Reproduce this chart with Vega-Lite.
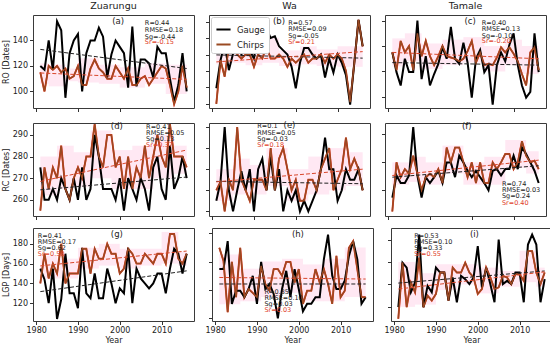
{
"$schema":"https://vega.github.io/schema/vega-lite/v6.json",
"padding":{"left":1,"top":0,"right":2,"bottom":0},
"config":{"font":"DejaVu Sans","view":{"stroke":"#3a3a3a","strokeWidth":1},
"axis":{"domain":false,"grid":false,"ticks":true,"tickSize":3.5,"tickColor":"#333","labelFontSize":8,"labelColor":"#222","titleFontSize":8,"titleFontWeight":"normal","titleColor":"#222","labelPadding":2,"titlePadding":2}},
"datasets":{
"ts":[
{"p":"a","year":1981,"Gauge":120,"Chirps":115},{"p":"a","year":1982,"Gauge":117,"Chirps":100},{"p":"a","year":1983,"Gauge":140,"Chirps":120},{"p":"a","year":1984,"Gauge":117,"Chirps":117},{"p":"a","year":1985,"Gauge":155,"Chirps":120},{"p":"a","year":1986,"Gauge":148,"Chirps":115},{"p":"a","year":1987,"Gauge":95,"Chirps":118},{"p":"a","year":1988,"Gauge":130,"Chirps":110},{"p":"a","year":1989,"Gauge":140,"Chirps":112},{"p":"a","year":1990,"Gauge":145,"Chirps":120},{"p":"a","year":1991,"Gauge":100,"Chirps":105},{"p":"a","year":1992,"Gauge":130,"Chirps":105},{"p":"a","year":1993,"Gauge":140,"Chirps":118},{"p":"a","year":1994,"Gauge":140,"Chirps":125},{"p":"a","year":1995,"Gauge":150,"Chirps":118},{"p":"a","year":1996,"Gauge":143,"Chirps":115},{"p":"a","year":1997,"Gauge":111,"Chirps":110},{"p":"a","year":1998,"Gauge":129,"Chirps":110},{"p":"a","year":1999,"Gauge":140,"Chirps":120},{"p":"a","year":2000,"Gauge":135,"Chirps":115},{"p":"a","year":2001,"Gauge":130,"Chirps":110},{"p":"a","year":2002,"Gauge":103,"Chirps":118},{"p":"a","year":2003,"Gauge":151,"Chirps":105},{"p":"a","year":2004,"Gauge":104,"Chirps":105},{"p":"a","year":2005,"Gauge":125,"Chirps":110},{"p":"a","year":2006,"Gauge":125,"Chirps":112},{"p":"a","year":2007,"Gauge":122,"Chirps":105},{"p":"a","year":2008,"Gauge":111,"Chirps":110},{"p":"a","year":2009,"Gauge":135,"Chirps":115},{"p":"a","year":2010,"Gauge":130,"Chirps":120},{"p":"a","year":2011,"Gauge":130,"Chirps":118},{"p":"a","year":2012,"Gauge":110,"Chirps":105},{"p":"a","year":2013,"Gauge":92,"Chirps":90},{"p":"a","year":2014,"Gauge":105,"Chirps":100},{"p":"a","year":2015,"Gauge":130,"Chirps":120},{"p":"a","year":2016,"Gauge":100,"Chirps":103},
{"p":"b","year":1981,"Gauge":99,"Chirps":80},{"p":"b","year":1982,"Gauge":133,"Chirps":133},{"p":"b","year":1983,"Gauge":153,"Chirps":113},{"p":"b","year":1984,"Gauge":121,"Chirps":150},{"p":"b","year":1985,"Gauge":141,"Chirps":160},{"p":"b","year":1986,"Gauge":155,"Chirps":140},{"p":"b","year":1987,"Gauge":140,"Chirps":135},{"p":"b","year":1988,"Gauge":150,"Chirps":140},{"p":"b","year":1989,"Gauge":145,"Chirps":140},{"p":"b","year":1990,"Gauge":135,"Chirps":125},{"p":"b","year":1991,"Gauge":170,"Chirps":140},{"p":"b","year":1992,"Gauge":165,"Chirps":135},{"p":"b","year":1993,"Gauge":172,"Chirps":150},{"p":"b","year":1994,"Gauge":160,"Chirps":135},{"p":"b","year":1995,"Gauge":162,"Chirps":135},{"p":"b","year":1996,"Gauge":150,"Chirps":140},{"p":"b","year":1997,"Gauge":145,"Chirps":135},{"p":"b","year":1998,"Gauge":140,"Chirps":125},{"p":"b","year":1999,"Gauge":125,"Chirps":135},{"p":"b","year":2000,"Gauge":99,"Chirps":130},{"p":"b","year":2001,"Gauge":130,"Chirps":135},{"p":"b","year":2002,"Gauge":148,"Chirps":140},{"p":"b","year":2003,"Gauge":148,"Chirps":130},{"p":"b","year":2004,"Gauge":140,"Chirps":135},{"p":"b","year":2005,"Gauge":135,"Chirps":135},{"p":"b","year":2006,"Gauge":140,"Chirps":140},{"p":"b","year":2007,"Gauge":112,"Chirps":130},{"p":"b","year":2008,"Gauge":135,"Chirps":140},{"p":"b","year":2009,"Gauge":118,"Chirps":135},{"p":"b","year":2010,"Gauge":140,"Chirps":140},{"p":"b","year":2011,"Gauge":130,"Chirps":135},{"p":"b","year":2012,"Gauge":115,"Chirps":120},{"p":"b","year":2013,"Gauge":79,"Chirps":82},{"p":"b","year":2014,"Gauge":130,"Chirps":130},{"p":"b","year":2015,"Gauge":182,"Chirps":182},{"p":"b","year":2016,"Gauge":150,"Chirps":150},
{"p":"c","year":1981,"Gauge":135,"Chirps":135},{"p":"c","year":1982,"Gauge":119.5,"Chirps":121},{"p":"c","year":1983,"Gauge":109,"Chirps":144},{"p":"c","year":1984,"Gauge":130,"Chirps":135},{"p":"c","year":1985,"Gauge":119.5,"Chirps":140},{"p":"c","year":1986,"Gauge":119.5,"Chirps":121},{"p":"c","year":1987,"Gauge":160,"Chirps":150},{"p":"c","year":1988,"Gauge":114,"Chirps":132},{"p":"c","year":1989,"Gauge":132,"Chirps":144},{"p":"c","year":1990,"Gauge":109,"Chirps":132},{"p":"c","year":1991,"Gauge":118,"Chirps":125},{"p":"c","year":1992,"Gauge":126,"Chirps":132},{"p":"c","year":1993,"Gauge":139,"Chirps":140},{"p":"c","year":1994,"Gauge":130,"Chirps":132},{"p":"c","year":1995,"Gauge":155,"Chirps":131},{"p":"c","year":1996,"Gauge":130,"Chirps":130},{"p":"c","year":1997,"Gauge":126,"Chirps":128},{"p":"c","year":1998,"Gauge":142.6,"Chirps":130},{"p":"c","year":1999,"Gauge":127,"Chirps":136},{"p":"c","year":2000,"Gauge":99.5,"Chirps":144},{"p":"c","year":2001,"Gauge":130,"Chirps":127},{"p":"c","year":2002,"Gauge":137,"Chirps":135},{"p":"c","year":2003,"Gauge":119.5,"Chirps":125},{"p":"c","year":2004,"Gauge":125,"Chirps":126},{"p":"c","year":2005,"Gauge":94,"Chirps":125},{"p":"c","year":2006,"Gauge":125,"Chirps":131},{"p":"c","year":2007,"Gauge":135,"Chirps":139},{"p":"c","year":2008,"Gauge":128,"Chirps":135},{"p":"c","year":2009,"Gauge":141,"Chirps":139},{"p":"c","year":2010,"Gauge":150,"Chirps":134},{"p":"c","year":2011,"Gauge":125,"Chirps":128},{"p":"c","year":2012,"Gauge":109,"Chirps":118},{"p":"c","year":2013,"Gauge":99.5,"Chirps":109},{"p":"c","year":2014,"Gauge":104,"Chirps":135},{"p":"c","year":2015,"Gauge":150,"Chirps":139},{"p":"c","year":2016,"Gauge":119.5,"Chirps":121},
{"p":"d","year":1981,"Gauge":275,"Chirps":255},{"p":"d","year":1982,"Gauge":260,"Chirps":275},{"p":"d","year":1983,"Gauge":260,"Chirps":265},{"p":"d","year":1984,"Gauge":265,"Chirps":275},{"p":"d","year":1985,"Gauge":260,"Chirps":270},{"p":"d","year":1986,"Gauge":270,"Chirps":285},{"p":"d","year":1987,"Gauge":265,"Chirps":265},{"p":"d","year":1988,"Gauge":260,"Chirps":260},{"p":"d","year":1989,"Gauge":270,"Chirps":270},{"p":"d","year":1990,"Gauge":260,"Chirps":275},{"p":"d","year":1991,"Gauge":275,"Chirps":270},{"p":"d","year":1992,"Gauge":260,"Chirps":280},{"p":"d","year":1993,"Gauge":265,"Chirps":280},{"p":"d","year":1994,"Gauge":290,"Chirps":295},{"p":"d","year":1995,"Gauge":280,"Chirps":280},{"p":"d","year":1996,"Gauge":265,"Chirps":275},{"p":"d","year":1997,"Gauge":265,"Chirps":290},{"p":"d","year":1998,"Gauge":265,"Chirps":290},{"p":"d","year":1999,"Gauge":260,"Chirps":275},{"p":"d","year":2000,"Gauge":270,"Chirps":280},{"p":"d","year":2001,"Gauge":255,"Chirps":265},{"p":"d","year":2002,"Gauge":270,"Chirps":280},{"p":"d","year":2003,"Gauge":265,"Chirps":265},{"p":"d","year":2004,"Gauge":260,"Chirps":275},{"p":"d","year":2005,"Gauge":270,"Chirps":270},{"p":"d","year":2006,"Gauge":265,"Chirps":285},{"p":"d","year":2007,"Gauge":255,"Chirps":270},{"p":"d","year":2008,"Gauge":275,"Chirps":280},{"p":"d","year":2009,"Gauge":280,"Chirps":290},{"p":"d","year":2010,"Gauge":265,"Chirps":280},{"p":"d","year":2011,"Gauge":260,"Chirps":275},{"p":"d","year":2012,"Gauge":285,"Chirps":295},{"p":"d","year":2013,"Gauge":265,"Chirps":280},{"p":"d","year":2014,"Gauge":270,"Chirps":280},{"p":"d","year":2015,"Gauge":280,"Chirps":280},{"p":"d","year":2016,"Gauge":270,"Chirps":275},
{"p":"e","year":1981,"Gauge":255,"Chirps":260},{"p":"e","year":1982,"Gauge":264,"Chirps":264},{"p":"e","year":1983,"Gauge":290,"Chirps":250},{"p":"e","year":1984,"Gauge":260,"Chirps":265},{"p":"e","year":1985,"Gauge":250,"Chirps":260},{"p":"e","year":1986,"Gauge":260,"Chirps":290},{"p":"e","year":1987,"Gauge":269,"Chirps":265},{"p":"e","year":1988,"Gauge":260,"Chirps":260},{"p":"e","year":1989,"Gauge":270,"Chirps":255},{"p":"e","year":1990,"Gauge":250,"Chirps":265},{"p":"e","year":1991,"Gauge":270,"Chirps":265},{"p":"e","year":1992,"Gauge":275,"Chirps":265},{"p":"e","year":1993,"Gauge":260,"Chirps":260},{"p":"e","year":1994,"Gauge":276,"Chirps":280},{"p":"e","year":1995,"Gauge":260,"Chirps":260},{"p":"e","year":1996,"Gauge":270,"Chirps":275},{"p":"e","year":1997,"Gauge":250,"Chirps":280},{"p":"e","year":1998,"Gauge":260,"Chirps":270},{"p":"e","year":1999,"Gauge":255,"Chirps":260},{"p":"e","year":2000,"Gauge":260,"Chirps":265},{"p":"e","year":2001,"Gauge":250,"Chirps":255},{"p":"e","year":2002,"Gauge":255,"Chirps":255},{"p":"e","year":2003,"Gauge":250,"Chirps":265},{"p":"e","year":2004,"Gauge":255,"Chirps":265},{"p":"e","year":2005,"Gauge":260,"Chirps":260},{"p":"e","year":2006,"Gauge":270,"Chirps":270},{"p":"e","year":2007,"Gauge":285,"Chirps":275},{"p":"e","year":2008,"Gauge":270,"Chirps":280},{"p":"e","year":2009,"Gauge":270,"Chirps":260},{"p":"e","year":2010,"Gauge":255,"Chirps":265},{"p":"e","year":2011,"Gauge":260,"Chirps":270},{"p":"e","year":2012,"Gauge":270,"Chirps":285},{"p":"e","year":2013,"Gauge":265,"Chirps":270},{"p":"e","year":2014,"Gauge":265,"Chirps":275},{"p":"e","year":2015,"Gauge":270,"Chirps":270},{"p":"e","year":2016,"Gauge":260,"Chirps":260},
{"p":"f","year":1981,"Gauge":257.4,"Chirps":252.4},{"p":"f","year":1982,"Gauge":265.3,"Chirps":270},{"p":"f","year":1983,"Gauge":262.6,"Chirps":264.7},{"p":"f","year":1984,"Gauge":262.6,"Chirps":267.6},{"p":"f","year":1985,"Gauge":265.3,"Chirps":265.9},{"p":"f","year":1986,"Gauge":282.6,"Chirps":272.4},{"p":"f","year":1987,"Gauge":265.3,"Chirps":265.9},{"p":"f","year":1988,"Gauge":257.4,"Chirps":260},{"p":"f","year":1989,"Gauge":264.7,"Chirps":264.7},{"p":"f","year":1990,"Gauge":262.6,"Chirps":265.9},{"p":"f","year":1991,"Gauge":264.7,"Chirps":264.7},{"p":"f","year":1992,"Gauge":267,"Chirps":267.6},{"p":"f","year":1993,"Gauge":262.6,"Chirps":262.6},{"p":"f","year":1994,"Gauge":270,"Chirps":275.3},{"p":"f","year":1995,"Gauge":270,"Chirps":270},{"p":"f","year":1996,"Gauge":264.7,"Chirps":275.3},{"p":"f","year":1997,"Gauge":272.4,"Chirps":275.3},{"p":"f","year":1998,"Gauge":270,"Chirps":270},{"p":"f","year":1999,"Gauge":267,"Chirps":264.7},{"p":"f","year":2000,"Gauge":264.7,"Chirps":270},{"p":"f","year":2001,"Gauge":267,"Chirps":262.6},{"p":"f","year":2002,"Gauge":264.7,"Chirps":270},{"p":"f","year":2003,"Gauge":262.6,"Chirps":262.6},{"p":"f","year":2004,"Gauge":260,"Chirps":262.6},{"p":"f","year":2005,"Gauge":267,"Chirps":270},{"p":"f","year":2006,"Gauge":267.6,"Chirps":267.6},{"p":"f","year":2007,"Gauge":265.3,"Chirps":270},{"p":"f","year":2008,"Gauge":267.6,"Chirps":273},{"p":"f","year":2009,"Gauge":267.6,"Chirps":273},{"p":"f","year":2010,"Gauge":272.4,"Chirps":267.6},{"p":"f","year":2011,"Gauge":267.6,"Chirps":270},{"p":"f","year":2012,"Gauge":275.3,"Chirps":277.6},{"p":"f","year":2013,"Gauge":273,"Chirps":272.4},{"p":"f","year":2014,"Gauge":270,"Chirps":270},{"p":"f","year":2015,"Gauge":267,"Chirps":270.6},{"p":"f","year":2016,"Gauge":262.6,"Chirps":267.6},
{"p":"g","year":1981,"Gauge":155,"Chirps":140},{"p":"g","year":1982,"Gauge":144,"Chirps":170},{"p":"g","year":1983,"Gauge":120,"Chirps":145},{"p":"g","year":1984,"Gauge":155,"Chirps":160},{"p":"g","year":1985,"Gauge":104,"Chirps":150},{"p":"g","year":1986,"Gauge":124,"Chirps":180},{"p":"g","year":1987,"Gauge":170,"Chirps":140},{"p":"g","year":1988,"Gauge":130,"Chirps":150},{"p":"g","year":1989,"Gauge":130,"Chirps":150},{"p":"g","year":1990,"Gauge":115,"Chirps":150},{"p":"g","year":1991,"Gauge":176,"Chirps":175},{"p":"g","year":1992,"Gauge":130,"Chirps":175},{"p":"g","year":1993,"Gauge":125,"Chirps":150},{"p":"g","year":1994,"Gauge":150,"Chirps":175},{"p":"g","year":1995,"Gauge":125,"Chirps":165},{"p":"g","year":1996,"Gauge":125,"Chirps":165},{"p":"g","year":1997,"Gauge":155,"Chirps":180},{"p":"g","year":1998,"Gauge":140,"Chirps":170},{"p":"g","year":1999,"Gauge":120,"Chirps":170},{"p":"g","year":2000,"Gauge":135,"Chirps":150},{"p":"g","year":2001,"Gauge":130,"Chirps":155},{"p":"g","year":2002,"Gauge":176,"Chirps":175},{"p":"g","year":2003,"Gauge":120,"Chirps":170},{"p":"g","year":2004,"Gauge":155,"Chirps":160},{"p":"g","year":2005,"Gauge":145,"Chirps":160},{"p":"g","year":2006,"Gauge":140,"Chirps":170},{"p":"g","year":2007,"Gauge":135,"Chirps":165},{"p":"g","year":2008,"Gauge":140,"Chirps":160},{"p":"g","year":2009,"Gauge":150,"Chirps":170},{"p":"g","year":2010,"Gauge":150,"Chirps":170},{"p":"g","year":2011,"Gauge":130,"Chirps":160},{"p":"g","year":2012,"Gauge":155,"Chirps":190},{"p":"g","year":2013,"Gauge":175,"Chirps":190},{"p":"g","year":2014,"Gauge":170,"Chirps":165},{"p":"g","year":2015,"Gauge":150,"Chirps":160},{"p":"g","year":2016,"Gauge":170,"Chirps":170},
{"p":"h","year":1981,"Gauge":134.7,"Chirps":149.8},{"p":"h","year":1982,"Gauge":134.7,"Chirps":140.5},{"p":"h","year":1983,"Gauge":154.4,"Chirps":104.4},{"p":"h","year":1984,"Gauge":110.2,"Chirps":139.8},{"p":"h","year":1985,"Gauge":119.5,"Chirps":114.9},{"p":"h","year":1986,"Gauge":119.5,"Chirps":149.8},{"p":"h","year":1987,"Gauge":114.9,"Chirps":114.9},{"p":"h","year":1988,"Gauge":120.7,"Chirps":120.7},{"p":"h","year":1989,"Gauge":130,"Chirps":117.9},{"p":"h","year":1990,"Gauge":110.2,"Chirps":114.9},{"p":"h","year":1991,"Gauge":139.8,"Chirps":137},{"p":"h","year":1992,"Gauge":120.7,"Chirps":124.2},{"p":"h","year":1993,"Gauge":124.2,"Chirps":119.5},{"p":"h","year":1994,"Gauge":117.2,"Chirps":134.7},{"p":"h","year":1995,"Gauge":100,"Chirps":134.7},{"p":"h","year":1996,"Gauge":120.7,"Chirps":130},{"p":"h","year":1997,"Gauge":133.5,"Chirps":139.8},{"p":"h","year":1998,"Gauge":114.9,"Chirps":139.8},{"p":"h","year":1999,"Gauge":134.7,"Chirps":125.3},{"p":"h","year":2000,"Gauge":120.7,"Chirps":134.7},{"p":"h","year":2001,"Gauge":104.9,"Chirps":110.2},{"p":"h","year":2002,"Gauge":110.2,"Chirps":119.5},{"p":"h","year":2003,"Gauge":110.2,"Chirps":119.5},{"p":"h","year":2004,"Gauge":114.9,"Chirps":134.7},{"p":"h","year":2005,"Gauge":114.9,"Chirps":125.3},{"p":"h","year":2006,"Gauge":141.6,"Chirps":134.7},{"p":"h","year":2007,"Gauge":159,"Chirps":124.2},{"p":"h","year":2008,"Gauge":130,"Chirps":110.2},{"p":"h","year":2009,"Gauge":120.7,"Chirps":144},{"p":"h","year":2010,"Gauge":120.7,"Chirps":114.9},{"p":"h","year":2011,"Gauge":126.5,"Chirps":119.5},{"p":"h","year":2012,"Gauge":144,"Chirps":149.8},{"p":"h","year":2013,"Gauge":154.4,"Chirps":154.4},{"p":"h","year":2014,"Gauge":141.6,"Chirps":134.7},{"p":"h","year":2015,"Gauge":110.2,"Chirps":114.9},{"p":"h","year":2016,"Gauge":114.9,"Chirps":114.9},
{"p":"i","year":1981,"Gauge":119.7,"Chirps":109.4},{"p":"i","year":1982,"Gauge":159.4,"Chirps":159.4},{"p":"i","year":1983,"Gauge":155,"Chirps":119.7},{"p":"i","year":1984,"Gauge":133,"Chirps":141.8},{"p":"i","year":1985,"Gauge":141.8,"Chirps":133},{"p":"i","year":1986,"Gauge":184.4,"Chirps":163.8},{"p":"i","year":1987,"Gauge":119.7,"Chirps":119.7},{"p":"i","year":1988,"Gauge":138.8,"Chirps":130},{"p":"i","year":1989,"Gauge":133,"Chirps":125.6},{"p":"i","year":1990,"Gauge":155,"Chirps":131.5},{"p":"i","year":1991,"Gauge":150.6,"Chirps":150.6},{"p":"i","year":1992,"Gauge":150.6,"Chirps":150.6},{"p":"i","year":1993,"Gauge":125.6,"Chirps":125.6},{"p":"i","year":1994,"Gauge":146.2,"Chirps":155},{"p":"i","year":1995,"Gauge":124.1,"Chirps":150.6},{"p":"i","year":1996,"Gauge":147.6,"Chirps":150.6},{"p":"i","year":1997,"Gauge":144.7,"Chirps":159.4},{"p":"i","year":1998,"Gauge":140.3,"Chirps":150.6},{"p":"i","year":1999,"Gauge":146.2,"Chirps":146.2},{"p":"i","year":2000,"Gauge":174.1,"Chirps":131.5},{"p":"i","year":2001,"Gauge":137.4,"Chirps":135.9},{"p":"i","year":2002,"Gauge":155,"Chirps":155},{"p":"i","year":2003,"Gauge":140.3,"Chirps":146.2},{"p":"i","year":2004,"Gauge":124.1,"Chirps":135.9},{"p":"i","year":2005,"Gauge":180,"Chirps":137.4},{"p":"i","year":2006,"Gauge":140.3,"Chirps":147.6},{"p":"i","year":2007,"Gauge":143.2,"Chirps":146.2},{"p":"i","year":2008,"Gauge":140.3,"Chirps":140.3},{"p":"i","year":2009,"Gauge":150.6,"Chirps":149.1},{"p":"i","year":2010,"Gauge":150.6,"Chirps":149.1},{"p":"i","year":2011,"Gauge":124.1,"Chirps":143.2},{"p":"i","year":2012,"Gauge":175.6,"Chirps":169.7},{"p":"i","year":2013,"Gauge":184.4,"Chirps":169.7},{"p":"i","year":2014,"Gauge":175.6,"Chirps":150.6},{"p":"i","year":2015,"Gauge":124.1,"Chirps":140.3},{"p":"i","year":2016,"Gauge":144.7,"Chirps":150.6}
],
"band":[
{"p":"a","year":1981,"x2":1983,"v":106,"hi":122},{"p":"a","year":1983,"x2":1987,"v":104,"hi":121},{"p":"a","year":1987,"x2":1990,"v":108,"hi":118},{"p":"a","year":1990,"x2":1995,"v":107,"hi":126},{"p":"a","year":1995,"x2":2000,"v":106,"hi":121},{"p":"a","year":2000,"x2":2006,"v":103,"hi":119},{"p":"a","year":2006,"x2":2011,"v":106,"hi":122},{"p":"a","year":2011,"x2":2016,"v":98,"hi":121},
{"p":"b","year":1981,"x2":1984,"v":128,"hi":150},{"p":"b","year":1984,"x2":1988,"v":130,"hi":158},{"p":"b","year":1988,"x2":1992,"v":127,"hi":148},{"p":"b","year":1992,"x2":1996,"v":130,"hi":160},{"p":"b","year":1996,"x2":2001,"v":126,"hi":145},{"p":"b","year":2001,"x2":2005,"v":128,"hi":150},{"p":"b","year":2005,"x2":2010,"v":126,"hi":146},{"p":"b","year":2010,"x2":2016,"v":125,"hi":150},
{"p":"c","year":1981,"x2":1984,"v":124,"hi":146},{"p":"c","year":1984,"x2":1988,"v":128,"hi":150},{"p":"c","year":1988,"x2":1993,"v":122,"hi":142},{"p":"c","year":1993,"x2":1998,"v":125,"hi":145},{"p":"c","year":1998,"x2":2003,"v":127,"hi":147},{"p":"c","year":2003,"x2":2008,"v":120,"hi":140},{"p":"c","year":2008,"x2":2012,"v":125,"hi":145},{"p":"c","year":2012,"x2":2016,"v":118,"hi":140},
{"p":"d","year":1981,"x2":1985,"v":262,"hi":280},{"p":"d","year":1985,"x2":1989,"v":265,"hi":285},{"p":"d","year":1989,"x2":1993,"v":266,"hi":282},{"p":"d","year":1993,"x2":1998,"v":270,"hi":292},{"p":"d","year":1998,"x2":2003,"v":265,"hi":283},{"p":"d","year":2003,"x2":2008,"v":265,"hi":285},{"p":"d","year":2008,"x2":2013,"v":270,"hi":290},{"p":"d","year":2013,"x2":2016,"v":272,"hi":285},
{"p":"e","year":1981,"x2":1985,"v":255,"hi":270},{"p":"e","year":1985,"x2":1989,"v":258,"hi":275},{"p":"e","year":1989,"x2":1993,"v":258,"hi":272},{"p":"e","year":1993,"x2":1998,"v":262,"hi":280},{"p":"e","year":1998,"x2":2003,"v":255,"hi":270},{"p":"e","year":2003,"x2":2008,"v":258,"hi":276},{"p":"e","year":2008,"x2":2012,"v":260,"hi":280},{"p":"e","year":2012,"x2":2016,"v":262,"hi":278},
{"p":"f","year":1981,"x2":1985,"v":262,"hi":270},{"p":"f","year":1985,"x2":1989,"v":263,"hi":272},{"p":"f","year":1989,"x2":1993,"v":262,"hi":270},{"p":"f","year":1993,"x2":1998,"v":266,"hi":276},{"p":"f","year":1998,"x2":2003,"v":262,"hi":270},{"p":"f","year":2003,"x2":2008,"v":262,"hi":272},{"p":"f","year":2008,"x2":2013,"v":268,"hi":278},{"p":"f","year":2013,"x2":2016,"v":266,"hi":274},
{"p":"g","year":1981,"x2":1985,"v":145,"hi":168},{"p":"g","year":1985,"x2":1990,"v":145,"hi":165},{"p":"g","year":1990,"x2":1995,"v":155,"hi":176},{"p":"g","year":1995,"x2":2000,"v":158,"hi":180},{"p":"g","year":2000,"x2":2005,"v":155,"hi":175},{"p":"g","year":2005,"x2":2010,"v":158,"hi":175},{"p":"g","year":2010,"x2":2014,"v":160,"hi":192},{"p":"g","year":2014,"x2":2016,"v":158,"hi":172},
{"p":"h","year":1981,"x2":1986,"v":110,"hi":145},{"p":"h","year":1986,"x2":1991,"v":112,"hi":135},{"p":"h","year":1991,"x2":1996,"v":115,"hi":140},{"p":"h","year":1996,"x2":2001,"v":118,"hi":142},{"p":"h","year":2001,"x2":2006,"v":112,"hi":138},{"p":"h","year":2006,"x2":2011,"v":112,"hi":142},{"p":"h","year":2011,"x2":2016,"v":115,"hi":150},
{"p":"i","year":1981,"x2":1985,"v":120,"hi":160},{"p":"i","year":1985,"x2":1990,"v":122,"hi":150},{"p":"i","year":1990,"x2":1995,"v":135,"hi":158},{"p":"i","year":1995,"x2":2000,"v":140,"hi":158},{"p":"i","year":2000,"x2":2005,"v":132,"hi":155},{"p":"i","year":2005,"x2":2010,"v":138,"hi":152},{"p":"i","year":2010,"x2":2014,"v":142,"hi":170},{"p":"i","year":2014,"x2":2016,"v":138,"hi":155}
],
"trend":[
{"p":"a","s":"g","year":1981,"v":133},{"p":"a","s":"g","year":2016,"v":118},{"p":"a","s":"c","year":1981,"v":114.5},{"p":"a","s":"c","year":2016,"v":109.5},
{"p":"b","s":"g","year":1981,"v":139.5},{"p":"b","s":"g","year":2016,"v":135.6},{"p":"b","s":"c","year":1981,"v":131},{"p":"b","s":"c","year":2016,"v":143.5},
{"p":"c","s":"g","year":1981,"v":127},{"p":"c","s":"g","year":2016,"v":125},{"p":"c","s":"c","year":1981,"v":135},{"p":"c","s":"c","year":2016,"v":130},
{"p":"d","s":"g","year":1981,"v":264.6},{"p":"d","s":"g","year":2016,"v":270.5},{"p":"d","s":"c","year":1981,"v":268.5},{"p":"d","s":"c","year":2016,"v":283},
{"p":"e","s":"g","year":1981,"v":264.2},{"p":"e","s":"g","year":2016,"v":263.1},{"p":"e","s":"c","year":1981,"v":264},{"p":"e","s":"c","year":2016,"v":270},
{"p":"f","s":"g","year":1981,"v":264.7},{"p":"f","s":"g","year":2016,"v":268.8},{"p":"f","s":"c","year":1981,"v":265.3},{"p":"f","s":"c","year":2016,"v":270.8},
{"p":"g","s":"g","year":1981,"v":131.7},{"p":"g","s":"g","year":2016,"v":152.7},{"p":"g","s":"c","year":1981,"v":157.7},{"p":"g","s":"c","year":2016,"v":172.7},
{"p":"h","s":"g","year":1981,"v":124.2},{"p":"h","s":"g","year":2016,"v":124.2},{"p":"h","s":"c","year":1981,"v":128.8},{"p":"h","s":"c","year":2016,"v":127.7},
{"p":"i","s":"g","year":1981,"v":141.2},{"p":"i","s":"g","year":2016,"v":152},{"p":"i","s":"c","year":1981,"v":135.9},{"p":"i","s":"c","year":2016,"v":151.2}
],
"ann":[
{"p":"a","k":"t","year":1998.5,"v":167.3,"t":"Zuarungu"},{"p":"b","k":"t","year":1998.5,"v":199.1,"t":"Wa"},{"p":"c","k":"t","year":1998.5,"v":171.7,"t":"Tamale"},
{"p":"a","k":"s","year":2006,"v":153.8,"t":"R=0.44"},{"p":"a","k":"s","year":2006,"v":148.5,"t":"RMSE=0.18"},{"p":"a","k":"s","year":2006,"v":143.1,"t":"Sg=-0.44"},{"p":"a","k":"r","year":2006,"v":138.5,"t":"Sr=-0.15"},{"p":"a","k":"l","year":1999.6,"v":155.6,"t":"(a)"},
{"p":"b","k":"s","year":1998.2,"v":178.8,"t":"R=0.57"},{"p":"b","k":"s","year":1998.2,"v":171,"t":"RMSE=0.09"},{"p":"b","k":"s","year":1998.2,"v":162.1,"t":"Sg=-0.05"},{"p":"b","k":"r","year":1998.2,"v":155,"t":"Sr=0.21"},{"p":"b","k":"l","year":1996,"v":181.2,"t":"(b)"},
{"p":"c","k":"s","year":2002.4,"v":158.2,"t":"R=0.40"},{"p":"c","k":"s","year":2002.4,"v":153.6,"t":"RMSE=0.13"},{"p":"c","k":"s","year":2002.4,"v":148.2,"t":"Sg=-0.10"},{"p":"c","k":"r","year":2002.4,"v":143.6,"t":"Sr=-0.20"},{"p":"c","k":"l","year":1999.6,"v":160,"t":"(c)"},
{"p":"d","k":"s","year":2006.3,"v":293.5,"t":"R=0.41"},{"p":"d","k":"s","year":2006.3,"v":290.8,"t":"RMSE=0.05"},{"p":"d","k":"s","year":2006.3,"v":288.1,"t":"Sg=0.13"},{"p":"d","k":"r","year":2006.3,"v":285.4,"t":"Sr=0.37"},{"p":"d","k":"l","year":1999.3,"v":294.2,"t":"(d)"},
{"p":"e","k":"s","year":1990.8,"v":290.3,"t":"R=0.1"},{"p":"e","k":"s","year":1990.8,"v":287.3,"t":"RMSE=0.05"},{"p":"e","k":"s","year":1990.8,"v":284.3,"t":"Sg=-0.03"},{"p":"e","k":"r","year":1990.8,"v":281.3,"t":"Sr=0.18"},{"p":"e","k":"l","year":1998.5,"v":290.8,"t":"(e)"},
{"p":"f","k":"s","year":2007.2,"v":262.2,"t":"R=0.74"},{"p":"f","k":"s","year":2007.2,"v":260,"t":"RMSE=0.03"},{"p":"f","k":"s","year":2007.2,"v":257.8,"t":"Sg=0.24"},{"p":"f","k":"r","year":2007.2,"v":255.6,"t":"Sr=0.40"},{"p":"f","k":"l","year":1998.8,"v":282.9,"t":"(f)"},
{"p":"g","k":"s","year":1980.4,"v":187.7,"t":"R=0.41"},{"p":"g","k":"s","year":1980.4,"v":181.6,"t":"RMSE=0.17"},{"p":"g","k":"s","year":1980.4,"v":175.5,"t":"Sg=0.62"},{"p":"g","k":"r","year":1980.4,"v":169.4,"t":"Sr=0.58"},{"p":"g","k":"l","year":1999.3,"v":190.3,"t":"(g)"},
{"p":"h","k":"s","year":1991.8,"v":118.8,"t":"R=0.35"},{"p":"h","k":"s","year":1991.8,"v":114.5,"t":"RMSE=0.10"},{"p":"h","k":"s","year":1991.8,"v":110.2,"t":"Sg=0.03"},{"p":"h","k":"r","year":1991.8,"v":105.9,"t":"Sr=0.03"},{"p":"h","k":"l","year":1999.8,"v":159.8,"t":"(h)"},
{"p":"i","k":"s","year":1984.8,"v":183.5,"t":"R=0.53"},{"p":"i","k":"s","year":1984.8,"v":177.9,"t":"RMSE=0.10"},{"p":"i","k":"s","year":1984.8,"v":172.3,"t":"Sg=0.33"},{"p":"i","k":"r","year":1984.8,"v":166.7,"t":"Sr=0.55"},{"p":"i","k":"l","year":1999.2,"v":185.3,"t":"(i)"}
]
},
"spacing":6,
"resolve":{"scale":{"color":"independent"},"legend":{"color":"independent"}},
"vconcat":[
{"spacing":9,"resolve":{"scale":{"color":"independent"},"legend":{"color":"independent"}},"hconcat":[
{"width":161,"height":93,
"encoding":{"x":{"field":"year","type":"quantitative","scale":{"domain":[1979.25,2017.75],"nice":false,"zero":false},"axis":{"values":[1980,1990,2000,2010],"format":"d","labels":false,"title":null}},
"y":{"field":"v","type":"quantitative","scale":{"domain":[87,160],"nice":false,"zero":false},"axis":{"values":[100,120,140],"title":"RO [Dates]"}}},
"layer":[
{"data":{"name":"band"},"transform":[{"filter":"datum.p=='a'"}],"mark":{"type":"rect","color":"#ff5fa8","opacity":0.14},"encoding":{"x2":{"field":"x2"},"y2":{"field":"hi"}}},
{"data":{"name":"ts"},"transform":[{"filter":"datum.p=='a'"},{"fold":["Chirps"],"as":["s","v"]}],"mark":{"type":"line","color":"#e8321e","strokeWidth":1.9}},
{"data":{"name":"ts"},"transform":[{"filter":"datum.p=='a'"},{"fold":["Gauge"],"as":["s","v"]}],"mark":{"type":"line","color":"black","strokeWidth":2}},
{"data":{"name":"ts"},"transform":[{"filter":"datum.p=='a'"},{"fold":["Chirps"],"as":["s","v"]}],"mark":{"type":"line","color":"#9a4a22","strokeWidth":1.5}},
{"data":{"name":"trend"},"transform":[{"filter":"datum.p=='a' && datum.s=='g'"}],"mark":{"type":"line","color":"#222","strokeWidth":1,"strokeDash":[4,2]}},
{"data":{"name":"trend"},"transform":[{"filter":"datum.p=='a' && datum.s=='c'"}],"mark":{"type":"line","color":"#d9472b","strokeWidth":1,"strokeDash":[4,2]}},
{"data":{"name":"ann"},"transform":[{"filter":"datum.p=='a' && datum.k=='s'"}],"mark":{"type":"text","align":"left","baseline":"middle","fontSize":6.5,"color":"#222"},"encoding":{"text":{"field":"t"}}},
{"data":{"name":"ann"},"transform":[{"filter":"datum.p=='a' && datum.k=='r'"}],"mark":{"type":"text","align":"left","baseline":"middle","fontSize":6.5,"color":"#e0402a"},"encoding":{"text":{"field":"t"}}},
{"data":{"name":"ann"},"transform":[{"filter":"datum.p=='a' && datum.k=='l'"}],"mark":{"type":"text","align":"center","baseline":"middle","fontSize":8.5,"color":"#222"},"encoding":{"text":{"field":"t"}}},
{"data":{"name":"ann"},"transform":[{"filter":"datum.p=='a' && datum.k=='t'"}],"mark":{"type":"text","align":"center","baseline":"middle","fontSize":9.5,"color":"#222"},"encoding":{"text":{"field":"t"}}}
]},
{"width":161,"height":93,
"encoding":{"x":{"field":"year","type":"quantitative","scale":{"domain":[1979.25,2017.75],"nice":false,"zero":false},"axis":{"values":[1980,1990,2000,2010],"format":"d","labels":false,"title":null}},
"y":{"field":"v","type":"quantitative","scale":{"domain":[75,188],"nice":false,"zero":false},"axis":{"values":[80,100,120,140,160,180],"labels":false,"title":null}}},
"layer":[
{"data":{"name":"band"},"transform":[{"filter":"datum.p=='b'"}],"mark":{"type":"rect","color":"#ff5fa8","opacity":0.14},"encoding":{"x2":{"field":"x2"},"y2":{"field":"hi"}}},
{"data":{"name":"ts"},"transform":[{"filter":"datum.p=='b'"},{"fold":["Chirps"],"as":["s","v"]}],"mark":{"type":"line","color":"#e8321e","strokeWidth":1.9}},
{"data":{"name":"ts"},"transform":[{"filter":"datum.p=='b'"},{"fold":["Gauge"],"as":["s","v"]}],"mark":{"type":"line","strokeWidth":2},"encoding":{"color":{"datum":"Gauge","scale":{"domain":["Gauge","Chirps"],"range":["black","#9a4a22"]},"legend":{"orient":"top-left","title":null,"symbolType":"stroke","symbolStrokeWidth":2,"symbolSize":200,"labelFontSize":8.5,"labelColor":"#222","padding":4,"offset":2,"strokeColor":"#ccc","fillColor":"white","cornerRadius":2,"rowPadding":2,"labelOffset":5}}}},
{"data":{"name":"ts"},"transform":[{"filter":"datum.p=='b'"},{"fold":["Chirps"],"as":["s","v"]}],"mark":{"type":"line","strokeWidth":1.5},"encoding":{"color":{"datum":"Chirps"}}},
{"data":{"name":"trend"},"transform":[{"filter":"datum.p=='b' && datum.s=='g'"}],"mark":{"type":"line","color":"#222","strokeWidth":1,"strokeDash":[4,2]}},
{"data":{"name":"trend"},"transform":[{"filter":"datum.p=='b' && datum.s=='c'"}],"mark":{"type":"line","color":"#d9472b","strokeWidth":1,"strokeDash":[4,2]}},
{"data":{"name":"ann"},"transform":[{"filter":"datum.p=='b' && datum.k=='s'"}],"mark":{"type":"text","align":"left","baseline":"middle","fontSize":6.5,"color":"#222"},"encoding":{"text":{"field":"t"}}},
{"data":{"name":"ann"},"transform":[{"filter":"datum.p=='b' && datum.k=='r'"}],"mark":{"type":"text","align":"left","baseline":"middle","fontSize":6.5,"color":"#e0402a"},"encoding":{"text":{"field":"t"}}},
{"data":{"name":"ann"},"transform":[{"filter":"datum.p=='b' && datum.k=='l'"}],"mark":{"type":"text","align":"center","baseline":"middle","fontSize":8.5,"color":"#222"},"encoding":{"text":{"field":"t"}}},
{"data":{"name":"ann"},"transform":[{"filter":"datum.p=='b' && datum.k=='t'"}],"mark":{"type":"text","align":"center","baseline":"middle","fontSize":9.5,"color":"#222"},"encoding":{"text":{"field":"t"}}}
]},
{"width":161,"height":93,
"encoding":{"x":{"field":"year","type":"quantitative","scale":{"domain":[1979.25,2017.75],"nice":false,"zero":false},"axis":{"values":[1980,1990,2000,2010],"format":"d","labels":false,"title":null}},
"y":{"field":"v","type":"quantitative","scale":{"domain":[91.3,164.4],"nice":false,"zero":false},"axis":{"values":[100,120,140,160],"labels":false,"title":null}}},
"layer":[
{"data":{"name":"band"},"transform":[{"filter":"datum.p=='c'"}],"mark":{"type":"rect","color":"#ff5fa8","opacity":0.14},"encoding":{"x2":{"field":"x2"},"y2":{"field":"hi"}}},
{"data":{"name":"ts"},"transform":[{"filter":"datum.p=='c'"},{"fold":["Chirps"],"as":["s","v"]}],"mark":{"type":"line","color":"#e8321e","strokeWidth":1.9}},
{"data":{"name":"ts"},"transform":[{"filter":"datum.p=='c'"},{"fold":["Gauge"],"as":["s","v"]}],"mark":{"type":"line","color":"black","strokeWidth":2}},
{"data":{"name":"ts"},"transform":[{"filter":"datum.p=='c'"},{"fold":["Chirps"],"as":["s","v"]}],"mark":{"type":"line","color":"#9a4a22","strokeWidth":1.5}},
{"data":{"name":"trend"},"transform":[{"filter":"datum.p=='c' && datum.s=='g'"}],"mark":{"type":"line","color":"#222","strokeWidth":1,"strokeDash":[4,2]}},
{"data":{"name":"trend"},"transform":[{"filter":"datum.p=='c' && datum.s=='c'"}],"mark":{"type":"line","color":"#d9472b","strokeWidth":1,"strokeDash":[4,2]}},
{"data":{"name":"ann"},"transform":[{"filter":"datum.p=='c' && datum.k=='s'"}],"mark":{"type":"text","align":"left","baseline":"middle","fontSize":6.5,"color":"#222"},"encoding":{"text":{"field":"t"}}},
{"data":{"name":"ann"},"transform":[{"filter":"datum.p=='c' && datum.k=='r'"}],"mark":{"type":"text","align":"left","baseline":"middle","fontSize":6.5,"color":"#e0402a"},"encoding":{"text":{"field":"t"}}},
{"data":{"name":"ann"},"transform":[{"filter":"datum.p=='c' && datum.k=='l'"}],"mark":{"type":"text","align":"center","baseline":"middle","fontSize":8.5,"color":"#222"},"encoding":{"text":{"field":"t"}}},
{"data":{"name":"ann"},"transform":[{"filter":"datum.p=='c' && datum.k=='t'"}],"mark":{"type":"text","align":"center","baseline":"middle","fontSize":9.5,"color":"#222"},"encoding":{"text":{"field":"t"}}}
]}
]},
{"spacing":9,"hconcat":[
{"width":161,"height":93,
"encoding":{"x":{"field":"year","type":"quantitative","scale":{"domain":[1979.25,2017.75],"nice":false,"zero":false},"axis":{"values":[1980,1990,2000,2010],"format":"d","labels":false,"title":null}},
"y":{"field":"v","type":"quantitative","scale":{"domain":[252.5,295.5],"nice":false,"zero":false},"axis":{"values":[260,270,280,290],"title":"RC [Dates]"}}},
"layer":[
{"data":{"name":"band"},"transform":[{"filter":"datum.p=='d'"}],"mark":{"type":"rect","color":"#ff5fa8","opacity":0.14},"encoding":{"x2":{"field":"x2"},"y2":{"field":"hi"}}},
{"data":{"name":"ts"},"transform":[{"filter":"datum.p=='d'"},{"fold":["Chirps"],"as":["s","v"]}],"mark":{"type":"line","color":"#e8321e","strokeWidth":1.9}},
{"data":{"name":"ts"},"transform":[{"filter":"datum.p=='d'"},{"fold":["Gauge"],"as":["s","v"]}],"mark":{"type":"line","color":"black","strokeWidth":2}},
{"data":{"name":"ts"},"transform":[{"filter":"datum.p=='d'"},{"fold":["Chirps"],"as":["s","v"]}],"mark":{"type":"line","color":"#9a4a22","strokeWidth":1.5}},
{"data":{"name":"trend"},"transform":[{"filter":"datum.p=='d' && datum.s=='g'"}],"mark":{"type":"line","color":"#222","strokeWidth":1,"strokeDash":[4,2]}},
{"data":{"name":"trend"},"transform":[{"filter":"datum.p=='d' && datum.s=='c'"}],"mark":{"type":"line","color":"#d9472b","strokeWidth":1,"strokeDash":[4,2]}},
{"data":{"name":"ann"},"transform":[{"filter":"datum.p=='d' && datum.k=='s'"}],"mark":{"type":"text","align":"left","baseline":"middle","fontSize":6.5,"color":"#222"},"encoding":{"text":{"field":"t"}}},
{"data":{"name":"ann"},"transform":[{"filter":"datum.p=='d' && datum.k=='r'"}],"mark":{"type":"text","align":"left","baseline":"middle","fontSize":6.5,"color":"#e0402a"},"encoding":{"text":{"field":"t"}}},
{"data":{"name":"ann"},"transform":[{"filter":"datum.p=='d' && datum.k=='l'"}],"mark":{"type":"text","align":"center","baseline":"middle","fontSize":8.5,"color":"#222"},"encoding":{"text":{"field":"t"}}}
]},
{"width":161,"height":93,
"encoding":{"x":{"field":"year","type":"quantitative","scale":{"domain":[1979.25,2017.75],"nice":false,"zero":false},"axis":{"values":[1980,1990,2000,2010],"format":"d","labels":false,"title":null}},
"y":{"field":"v","type":"quantitative","scale":{"domain":[247.8,291.9],"nice":false,"zero":false},"axis":{"values":[250,260,270,280,290],"labels":false,"title":null}}},
"layer":[
{"data":{"name":"band"},"transform":[{"filter":"datum.p=='e'"}],"mark":{"type":"rect","color":"#ff5fa8","opacity":0.14},"encoding":{"x2":{"field":"x2"},"y2":{"field":"hi"}}},
{"data":{"name":"ts"},"transform":[{"filter":"datum.p=='e'"},{"fold":["Chirps"],"as":["s","v"]}],"mark":{"type":"line","color":"#e8321e","strokeWidth":1.9}},
{"data":{"name":"ts"},"transform":[{"filter":"datum.p=='e'"},{"fold":["Gauge"],"as":["s","v"]}],"mark":{"type":"line","color":"black","strokeWidth":2}},
{"data":{"name":"ts"},"transform":[{"filter":"datum.p=='e'"},{"fold":["Chirps"],"as":["s","v"]}],"mark":{"type":"line","color":"#9a4a22","strokeWidth":1.5}},
{"data":{"name":"trend"},"transform":[{"filter":"datum.p=='e' && datum.s=='g'"}],"mark":{"type":"line","color":"#222","strokeWidth":1,"strokeDash":[4,2]}},
{"data":{"name":"trend"},"transform":[{"filter":"datum.p=='e' && datum.s=='c'"}],"mark":{"type":"line","color":"#d9472b","strokeWidth":1,"strokeDash":[4,2]}},
{"data":{"name":"ann"},"transform":[{"filter":"datum.p=='e' && datum.k=='s'"}],"mark":{"type":"text","align":"left","baseline":"middle","fontSize":6.5,"color":"#222"},"encoding":{"text":{"field":"t"}}},
{"data":{"name":"ann"},"transform":[{"filter":"datum.p=='e' && datum.k=='r'"}],"mark":{"type":"text","align":"left","baseline":"middle","fontSize":6.5,"color":"#e0402a"},"encoding":{"text":{"field":"t"}}},
{"data":{"name":"ann"},"transform":[{"filter":"datum.p=='e' && datum.k=='l'"}],"mark":{"type":"text","align":"center","baseline":"middle","fontSize":8.5,"color":"#222"},"encoding":{"text":{"field":"t"}}}
]},
{"width":161,"height":93,
"encoding":{"x":{"field":"year","type":"quantitative","scale":{"domain":[1979.25,2017.75],"nice":false,"zero":false},"axis":{"values":[1980,1990,2000,2010],"format":"d","labels":false,"title":null}},
"y":{"field":"v","type":"quantitative","scale":{"domain":[250.8,284.1],"nice":false,"zero":false},"axis":{"values":[260,270,280],"labels":false,"title":null}}},
"layer":[
{"data":{"name":"band"},"transform":[{"filter":"datum.p=='f'"}],"mark":{"type":"rect","color":"#ff5fa8","opacity":0.14},"encoding":{"x2":{"field":"x2"},"y2":{"field":"hi"}}},
{"data":{"name":"ts"},"transform":[{"filter":"datum.p=='f'"},{"fold":["Chirps"],"as":["s","v"]}],"mark":{"type":"line","color":"#e8321e","strokeWidth":1.9}},
{"data":{"name":"ts"},"transform":[{"filter":"datum.p=='f'"},{"fold":["Gauge"],"as":["s","v"]}],"mark":{"type":"line","color":"black","strokeWidth":2}},
{"data":{"name":"ts"},"transform":[{"filter":"datum.p=='f'"},{"fold":["Chirps"],"as":["s","v"]}],"mark":{"type":"line","color":"#9a4a22","strokeWidth":1.5}},
{"data":{"name":"trend"},"transform":[{"filter":"datum.p=='f' && datum.s=='g'"}],"mark":{"type":"line","color":"#222","strokeWidth":1,"strokeDash":[4,2]}},
{"data":{"name":"trend"},"transform":[{"filter":"datum.p=='f' && datum.s=='c'"}],"mark":{"type":"line","color":"#d9472b","strokeWidth":1,"strokeDash":[4,2]}},
{"data":{"name":"ann"},"transform":[{"filter":"datum.p=='f' && datum.k=='s'"}],"mark":{"type":"text","align":"left","baseline":"middle","fontSize":6.5,"color":"#222"},"encoding":{"text":{"field":"t"}}},
{"data":{"name":"ann"},"transform":[{"filter":"datum.p=='f' && datum.k=='r'"}],"mark":{"type":"text","align":"left","baseline":"middle","fontSize":6.5,"color":"#e0402a"},"encoding":{"text":{"field":"t"}}},
{"data":{"name":"ann"},"transform":[{"filter":"datum.p=='f' && datum.k=='l'"}],"mark":{"type":"text","align":"center","baseline":"middle","fontSize":8.5,"color":"#222"},"encoding":{"text":{"field":"t"}}}
]}
]},
{"spacing":9,"hconcat":[
{"width":161,"height":93,
"encoding":{"x":{"field":"year","type":"quantitative","scale":{"domain":[1979.25,2017.75],"nice":false,"zero":false},"axis":{"values":[1980,1990,2000,2010],"format":"d","title":"Year"}},
"y":{"field":"v","type":"quantitative","scale":{"domain":[102,196],"nice":false,"zero":false},"axis":{"values":[120,140,160,180],"title":"LGP [Days]"}}},
"layer":[
{"data":{"name":"band"},"transform":[{"filter":"datum.p=='g'"}],"mark":{"type":"rect","color":"#ff5fa8","opacity":0.14},"encoding":{"x2":{"field":"x2"},"y2":{"field":"hi"}}},
{"data":{"name":"ts"},"transform":[{"filter":"datum.p=='g'"},{"fold":["Chirps"],"as":["s","v"]}],"mark":{"type":"line","color":"#e8321e","strokeWidth":1.9}},
{"data":{"name":"ts"},"transform":[{"filter":"datum.p=='g'"},{"fold":["Gauge"],"as":["s","v"]}],"mark":{"type":"line","color":"black","strokeWidth":2}},
{"data":{"name":"ts"},"transform":[{"filter":"datum.p=='g'"},{"fold":["Chirps"],"as":["s","v"]}],"mark":{"type":"line","color":"#9a4a22","strokeWidth":1.5}},
{"data":{"name":"trend"},"transform":[{"filter":"datum.p=='g' && datum.s=='g'"}],"mark":{"type":"line","color":"#222","strokeWidth":1,"strokeDash":[4,2]}},
{"data":{"name":"trend"},"transform":[{"filter":"datum.p=='g' && datum.s=='c'"}],"mark":{"type":"line","color":"#d9472b","strokeWidth":1,"strokeDash":[4,2]}},
{"data":{"name":"ann"},"transform":[{"filter":"datum.p=='g' && datum.k=='s'"}],"mark":{"type":"text","align":"left","baseline":"middle","fontSize":6.5,"color":"#222"},"encoding":{"text":{"field":"t"}}},
{"data":{"name":"ann"},"transform":[{"filter":"datum.p=='g' && datum.k=='r'"}],"mark":{"type":"text","align":"left","baseline":"middle","fontSize":6.5,"color":"#e0402a"},"encoding":{"text":{"field":"t"}}},
{"data":{"name":"ann"},"transform":[{"filter":"datum.p=='g' && datum.k=='l'"}],"mark":{"type":"text","align":"center","baseline":"middle","fontSize":8.5,"color":"#222"},"encoding":{"text":{"field":"t"}}}
]},
{"width":161,"height":93,
"encoding":{"x":{"field":"year","type":"quantitative","scale":{"domain":[1979.25,2017.75],"nice":false,"zero":false},"axis":{"values":[1980,1990,2000,2010],"format":"d","title":"Year"}},
"y":{"field":"v","type":"quantitative","scale":{"domain":[98.1,163.7],"nice":false,"zero":false},"axis":{"values":[100,120,140,160],"labels":false,"title":null}}},
"layer":[
{"data":{"name":"band"},"transform":[{"filter":"datum.p=='h'"}],"mark":{"type":"rect","color":"#ff5fa8","opacity":0.14},"encoding":{"x2":{"field":"x2"},"y2":{"field":"hi"}}},
{"data":{"name":"ts"},"transform":[{"filter":"datum.p=='h'"},{"fold":["Chirps"],"as":["s","v"]}],"mark":{"type":"line","color":"#e8321e","strokeWidth":1.9}},
{"data":{"name":"ts"},"transform":[{"filter":"datum.p=='h'"},{"fold":["Gauge"],"as":["s","v"]}],"mark":{"type":"line","color":"black","strokeWidth":2}},
{"data":{"name":"ts"},"transform":[{"filter":"datum.p=='h'"},{"fold":["Chirps"],"as":["s","v"]}],"mark":{"type":"line","color":"#9a4a22","strokeWidth":1.5}},
{"data":{"name":"trend"},"transform":[{"filter":"datum.p=='h' && datum.s=='g'"}],"mark":{"type":"line","color":"#222","strokeWidth":1,"strokeDash":[4,2]}},
{"data":{"name":"trend"},"transform":[{"filter":"datum.p=='h' && datum.s=='c'"}],"mark":{"type":"line","color":"#d9472b","strokeWidth":1,"strokeDash":[4,2]}},
{"data":{"name":"ann"},"transform":[{"filter":"datum.p=='h' && datum.k=='s'"}],"mark":{"type":"text","align":"left","baseline":"middle","fontSize":6.5,"color":"#222"},"encoding":{"text":{"field":"t"}}},
{"data":{"name":"ann"},"transform":[{"filter":"datum.p=='h' && datum.k=='r'"}],"mark":{"type":"text","align":"left","baseline":"middle","fontSize":6.5,"color":"#e0402a"},"encoding":{"text":{"field":"t"}}},
{"data":{"name":"ann"},"transform":[{"filter":"datum.p=='h' && datum.k=='l'"}],"mark":{"type":"text","align":"center","baseline":"middle","fontSize":8.5,"color":"#222"},"encoding":{"text":{"field":"t"}}}
]},
{"width":161,"height":93,
"encoding":{"x":{"field":"year","type":"quantitative","scale":{"domain":[1979.25,2017.75],"nice":false,"zero":false},"axis":{"values":[1980,1990,2000,2010],"format":"d","title":"Year"}},
"y":{"field":"v","type":"quantitative","scale":{"domain":[107.4,190.3],"nice":false,"zero":false},"axis":{"values":[120,140,160,180],"labels":false,"title":null}}},
"layer":[
{"data":{"name":"band"},"transform":[{"filter":"datum.p=='i'"}],"mark":{"type":"rect","color":"#ff5fa8","opacity":0.14},"encoding":{"x2":{"field":"x2"},"y2":{"field":"hi"}}},
{"data":{"name":"ts"},"transform":[{"filter":"datum.p=='i'"},{"fold":["Chirps"],"as":["s","v"]}],"mark":{"type":"line","color":"#e8321e","strokeWidth":1.9}},
{"data":{"name":"ts"},"transform":[{"filter":"datum.p=='i'"},{"fold":["Gauge"],"as":["s","v"]}],"mark":{"type":"line","color":"black","strokeWidth":2}},
{"data":{"name":"ts"},"transform":[{"filter":"datum.p=='i'"},{"fold":["Chirps"],"as":["s","v"]}],"mark":{"type":"line","color":"#9a4a22","strokeWidth":1.5}},
{"data":{"name":"trend"},"transform":[{"filter":"datum.p=='i' && datum.s=='g'"}],"mark":{"type":"line","color":"#222","strokeWidth":1,"strokeDash":[4,2]}},
{"data":{"name":"trend"},"transform":[{"filter":"datum.p=='i' && datum.s=='c'"}],"mark":{"type":"line","color":"#d9472b","strokeWidth":1,"strokeDash":[4,2]}},
{"data":{"name":"ann"},"transform":[{"filter":"datum.p=='i' && datum.k=='s'"}],"mark":{"type":"text","align":"left","baseline":"middle","fontSize":6.5,"color":"#222"},"encoding":{"text":{"field":"t"}}},
{"data":{"name":"ann"},"transform":[{"filter":"datum.p=='i' && datum.k=='r'"}],"mark":{"type":"text","align":"left","baseline":"middle","fontSize":6.5,"color":"#e0402a"},"encoding":{"text":{"field":"t"}}},
{"data":{"name":"ann"},"transform":[{"filter":"datum.p=='i' && datum.k=='l'"}],"mark":{"type":"text","align":"center","baseline":"middle","fontSize":8.5,"color":"#222"},"encoding":{"text":{"field":"t"}}}
]}
]}
]
}
